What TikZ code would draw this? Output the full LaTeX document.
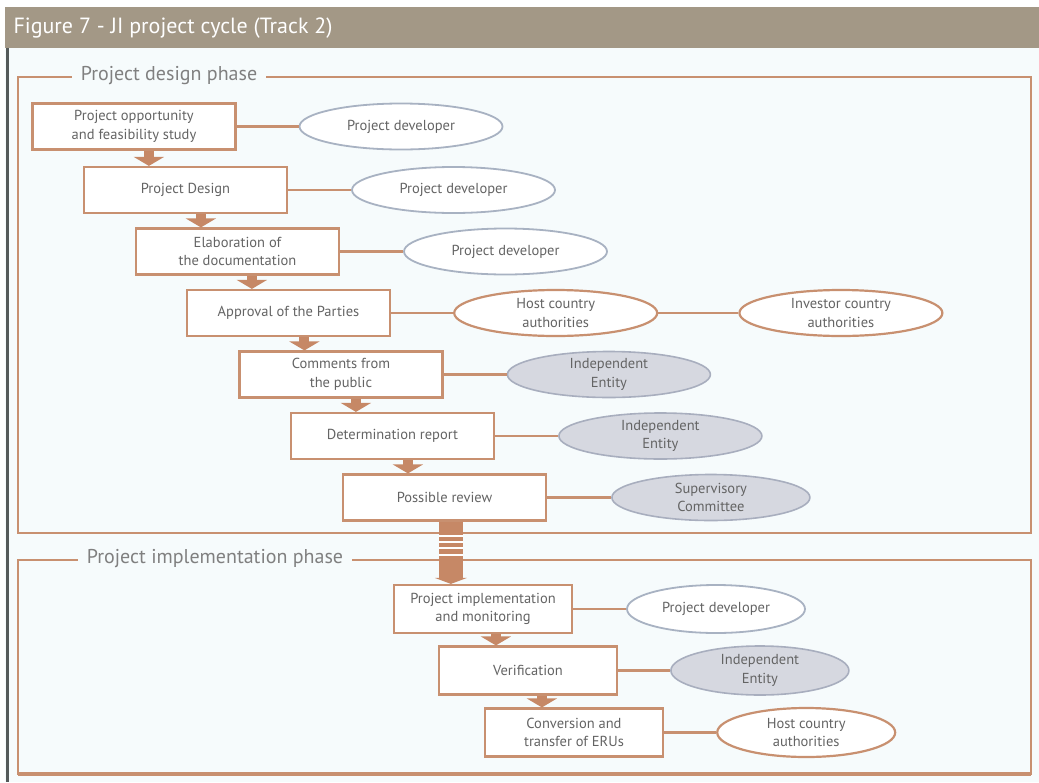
\documentclass[tikz,border=0pt]{standalone}
\usepackage{fontspec}
\setmainfont{PT Sans}
\usetikzlibrary{arrows.meta,positioning,calc,shapes.geometric}
\definecolor{barc}{RGB}{163,152,134}
\definecolor{bgc}{RGB}{246,251,252}
\definecolor{linec}{RGB}{200,144,112}
\definecolor{arrowc}{RGB}{198,136,102}
\definecolor{txtc}{RGB}{100,100,100}
\definecolor{devc}{RGB}{168,178,194}
\definecolor{entc}{RGB}{214,216,224}
\definecolor{entb}{RGB}{168,174,190}
\definecolor{leftc}{RGB}{85,90,90}

\begin{document}
\begin{tikzpicture}[x=1pt, y=-1pt,
    every node/.style={font=\fontsize{14.5}{18.5}\selectfont, text=txtc, align=center},
    stepbox/.style={draw=linec, line width=2.2pt, fill=white, minimum width=203pt, minimum height=46pt, inner sep=1pt},
    implbox/.style={stepbox, minimum width=178pt, minimum height=48pt},
    dev/.style={ellipse, draw=devc, line width=1.8pt, fill=white, minimum width=203pt, minimum height=46pt, inner sep=0pt},
    auth/.style={ellipse, draw=linec, line width=2.2pt, fill=white, minimum width=203pt, minimum height=46pt, inner sep=0pt},
    ent/.style={ellipse, draw=entb, line width=1.6pt, fill=entc, minimum width=203pt, minimum height=46pt, inner sep=0pt},
    link/.style={draw=linec, line width=2.6pt},
    flow/.style={draw=arrowc, line width=10pt, -{Triangle[width=30pt,length=9pt]}},
    bigflow/.style={draw=arrowc, line width=24pt, -{Triangle[width=32pt,length=6pt]}},
    frame/.style={draw=linec, line width=2pt},
    phase/.style={fill=bgc, inner xsep=9pt, font=\fontsize{20}{24}\selectfont, text=gray}
  ]
    % Hintergrund
    \fill[white] (0,0) rectangle (1039,782);
    \useasboundingbox (0,0) rectangle (1039,782);
    \fill[bgc] (5,48) rectangle (1039,782);
    \fill[barc] (5,7) rectangle (1039,48);
    \fill[leftc] (6,48) rectangle (9,782);
    \node[anchor=west, text=white, font=\fontsize{22}{26}\selectfont] (title) at (10,28) {Figure 7 - JI project cycle (Track 2)};

    % Phasen
    \draw[frame] (18,77) rectangle (1031,533);
    \draw[frame] (18,560) rectangle (1031,774);
    \draw[frame, line width=3.5pt] (18,774) -- (1031,774);
    \node[phase] (ph1) at (169,76) {Project design phase};
    \node[phase] (ph2) at (215,559) {Project implementation phase};

    % Schritte
    \node[stepbox] (b1) at (134,126.5) {Project opportunity\\and feasibility study};
    \node[stepbox] (b2) at (185.5,190) {Project Design};
    \node[stepbox] (b3) at (237.5,251.5) {Elaboration of\\the documentation};
    \node[stepbox] (b4) at (288.5,313) {Approval of the Parties};
    \node[stepbox] (b5) at (341,374.5) {Comments from\\the public};
    \node[stepbox] (b6) at (392.5,436) {Determination report};
    \node[stepbox] (b7) at (444.5,497.5) {Possible review};
    \node[implbox] (b8) at (483,609) {Project implementation\\and monitoring};
    \node[implbox] (b9) at (528,670.5) {Verification};
    \node[implbox] (b10) at (574,732.5) {Conversion and\\transfer of ERUs};

    % Beteiligte
    \node[dev, right=62pt of b1] (e1) {Project developer};
    \node[dev, right=63pt of b2] (e2) {Project developer};
    \node[dev, right=63pt of b3] (e3) {Project developer};
    \node[auth, right=62pt of b4] (e4) {Host country\\authorities};
    \node[auth, right=80pt of e4] (e5) {Investor country\\authorities};
    \node[ent, right=63pt of b5] (e6) {Independent\\Entity};
    \node[ent, right=63pt of b6] (e7) {Independent\\Entity};
    \node[ent, right=64pt of b7, minimum width=198pt] (e8) {Supervisory\\Committee};
    \node[dev, right=53pt of b8, minimum width=178pt, minimum height=48pt] (e9) {Project developer};
    \node[ent, right=52pt of b9, minimum width=178pt, minimum height=49pt] (e10) {Independent\\Entity};
    \node[auth, right=52pt of b10, minimum width=178pt, minimum height=49pt] (e11) {Host country\\authorities};

    % Verbindungen
    \draw[link] (b1) -- (e1);
    \draw[link] (b2) -- (e2);
    \draw[link] (b3) -- (e3);
    \draw[link] (b4) -- (e4);
    \draw[link] (e4) -- (e5);
    \draw[link] (b5) -- (e6);
    \draw[link] (b6) -- (e7);
    \draw[link] (b7) -- (e8);
    \draw[link] (b8) -- (e9);
    \draw[link] (b9) -- (e10);
    \draw[link] (b10) -- (e11);

    % Pfeile
    \coordinate (a1) at ($(b2.north west)+(66,0)$);
    \coordinate (a2) at ($(b3.north west)+(66,0)$);
    \coordinate (a3) at ($(b4.north west)+(66,0)$);
    \coordinate (a4) at ($(b5.north west)+(66,0)$);
    \coordinate (a5) at ($(b6.north west)+(66,0)$);
    \coordinate (a6) at ($(b7.north west)+(66,0)$);
    \coordinate (a7) at ($(b8.north west)+(58,0)$);
    \coordinate (a8) at ($(b9.north west)+(58,0)$);
    \coordinate (a9) at ($(b10.north west)+(58,0)$);
    \draw[flow] (a1 |- b1.south) -- (a1);
    \draw[flow] (a2 |- b2.south) -- (a2);
    \draw[flow] (a3 |- b3.south) -- (a3);
    \draw[flow] (a4 |- b4.south) -- (a4);
    \draw[flow] (a5 |- b5.south) -- (a5);
    \draw[flow] (a6 |- b6.south) -- (a6);
    \draw[bigflow] (a7 |- b7.south) -- (a7);
    \foreach \yy in {536,542,548,555} {\draw[white, line width=1.4pt] ($(a7 |- 0,\yy)+(-12,0)$) -- ++(24,0);}
    \draw[flow] (a8 |- b8.south) -- (a8);
    \draw[flow] (a9 |- b9.south) -- (a9);
  \end{tikzpicture}
\end{document}
